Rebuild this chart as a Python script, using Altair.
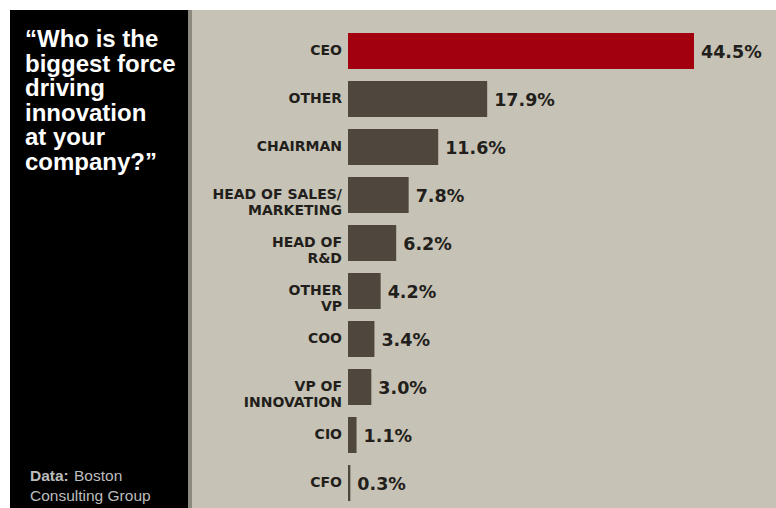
import altair as alt
import pandas as pd

# ---- data ----
categories = ["CEO", "OTHER", "CHAIRMAN", "HEAD OF SALES/MARKETING", "HEAD OF R&D",
              "OTHER VP", "COO", "VP OF INNOVATION", "CIO", "CFO"]
label_lines = ["CEO", "OTHER", "CHAIRMAN", "HEAD OF SALES/\nMARKETING", "HEAD OF\nR&D",
               "OTHER\nVP", "COO", "VP OF\nINNOVATION", "CIO", "CFO"]
shares = [44.5, 17.9, 11.6, 7.8, 6.2, 4.2, 3.4, 3.0, 1.1, 0.3]
value_labels = ["44.5%", "17.9%", "11.6%", "7.8%", "6.2%", "4.2%", "3.4%", "3.0%", "1.1%", "0.3%"]
highlight = "CEO"

title_lines = ["\u201cWho is the", "biggest force", "driving", "innovation", "at your", "company?\u201d"]
source_label = "Data:"
source_lines = ["Boston", "Consulting Group"]

df = pd.DataFrame({
    "category": categories,
    "label": label_lines,
    "share": shares,
    "text": value_labels,
})
one = pd.DataFrame({"k": [0]})

BEIGE = "#c6c2b5"
DARK = "#4f473d"
RED = "#a3000f"
INK = "#221e1b"
SRC = "#bdbdbd"

W, H = 776, 508

x_scale = alt.Scale(domain=[0, 44.5], range=[348, 694])
y_enc = alt.Y("category:N", sort=categories, axis=None,
              scale=alt.Scale(domain=categories, range=[27, 507],
                              paddingInner=0.25, paddingOuter=0.125))

# background panels
black_panel = alt.Chart(one).mark_rect(color="#000000").encode(
    x=alt.value(10), x2=alt.value(188), y=alt.value(10), y2=alt.value(H))
divider = alt.Chart(one).mark_rect(color="#8c897f").encode(
    x=alt.value(188), x2=alt.value(192), y=alt.value(10), y2=alt.value(H))
beige_panel = alt.Chart(one).mark_rect(color=BEIGE).encode(
    x=alt.value(192), x2=alt.value(W), y=alt.value(10), y2=alt.value(H))

bars = alt.Chart(df).mark_bar().encode(
    x=alt.X("share:Q", scale=x_scale, axis=None),
    y=y_enc,
    color=alt.condition(alt.datum.category == highlight, alt.value(RED), alt.value(DARK)),
)

values = alt.Chart(df).mark_text(
    align="left", baseline="middle", dx=7, dy=2,
    font="DejaVu Sans", fontWeight="bold", fontSize=17.5, color=INK,
).encode(
    x=alt.X("share:Q", scale=x_scale, axis=None),
    y=y_enc,
    text="text:N",
)

cat_labels = alt.Chart(df).mark_text(
    align="right", baseline="middle", dx=-6, lineBreak="\n", lineHeight=16,
    font="DejaVu Sans", fontWeight="bold", fontSize=14, color=INK,
).encode(
    x=alt.X("zero:Q", scale=x_scale, axis=None),
    y=y_enc,
    text="label:N",
).transform_calculate(zero="0")

title = alt.Chart(one).mark_text(
    align="left", baseline="alphabetic", lineBreak="\n", lineHeight=24.5,
    font="Liberation Sans", fontWeight="bold", fontSize=24, color="#ffffff",
).encode(
    x=alt.value(25), y=alt.value(47),
    text=alt.value("\n".join(title_lines)),
)

source_bold = alt.Chart(one).mark_text(
    align="left", baseline="alphabetic",
    font="Liberation Sans", fontWeight="bold", fontSize=15.5, color=SRC,
).encode(x=alt.value(30), y=alt.value(481), text=alt.value(source_label))

source_line1 = alt.Chart(one).mark_text(
    align="left", baseline="alphabetic",
    font="Liberation Sans", fontSize=15.5, color=SRC,
).encode(x=alt.value(74), y=alt.value(481), text=alt.value(source_lines[0]))

source_line2 = alt.Chart(one).mark_text(
    align="left", baseline="alphabetic",
    font="Liberation Sans", fontSize=15.5, color=SRC,
).encode(x=alt.value(30), y=alt.value(501), text=alt.value(source_lines[1]))

chart = alt.layer(
    black_panel, divider, beige_panel, bars, values, cat_labels,
    title, source_bold, source_line1, source_line2,
).properties(
    width=W, height=H, padding=0,
    autosize=alt.AutoSizeParams(type="none"),
    background="#ffffff",
).configure_view(stroke=None)

chart.save("out.html", embed_options={"renderer": "svg", "actions": False})
